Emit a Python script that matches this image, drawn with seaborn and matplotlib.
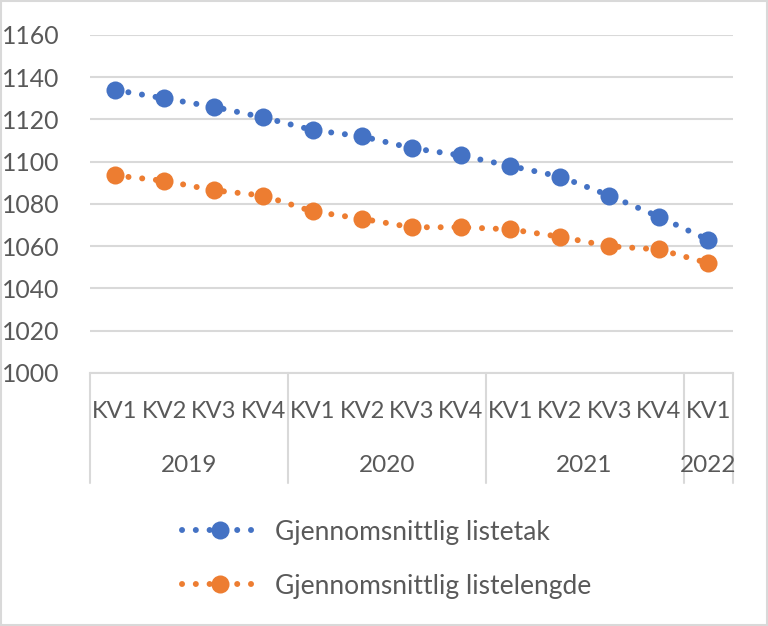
import matplotlib
matplotlib.use("Agg")
import matplotlib.pyplot as plt
import matplotlib.transforms as mtransforms
from matplotlib.lines import Line2D
from matplotlib.patches import Rectangle
import seaborn as sns
import pandas as pd
import numpy as np

quarters = ["KV1", "KV2", "KV3", "KV4", "KV1", "KV2", "KV3", "KV4",
            "KV1", "KV2", "KV3", "KV4", "KV1"]
years = ["2019", "2020", "2021", "2022"]
year_counts = [4, 4, 4, 1]
listetak = [1134, 1130, 1126, 1121, 1115, 1112, 1106.5, 1103,
            1098, 1093, 1084, 1074, 1063]
listelengde = [1093.5, 1091, 1086.5, 1084, 1076.5, 1073, 1069, 1069,
               1068, 1064.5, 1060, 1058.5, 1052]
series_names = ["Gjennomsnittlig listetak", "Gjennomsnittlig listelengde"]
colors = ["#4472C4", "#ED7D31"]

sns.set_theme(style="white")
plt.rcParams['font.family'] = ['Lato', 'DejaVu Sans']
text_color = "#595959"
grid_color = "#D9D9D9"

fig = plt.figure(figsize=(7.68, 6.26), dpi=100)
ax = fig.add_axes([90/768, 1-373/626, (733-90)/768, (373-35)/626])

idx = np.arange(len(quarters))
df = pd.DataFrame({"x": np.concatenate([idx, idx]),
                   "y": listetak + listelengde,
                   "serie": [series_names[0]]*len(idx) + [series_names[1]]*len(idx)})

dash = (0, (0.01, 2.3))
for name, col in zip(series_names, colors):
    sub = df[df["serie"] == name]
    sns.lineplot(data=sub, x="x", y="y", ax=ax, color=col, linewidth=4.3,
                 linestyle=dash, dash_capstyle="round", marker="o",
                 markersize=13, markeredgewidth=0, markerfacecolor=col,
                 zorder=3, legend=False)

ax.set_xlim(-0.5, len(quarters)-0.5)
ax.set_ylim(1000, 1160)
ax.set_yticks(np.arange(1000, 1161, 20))
ax.yaxis.grid(True, color=grid_color, linewidth=1.5)
ax.xaxis.grid(False)
ax.set_axisbelow(True)
for s in ["top", "right", "left"]:
    ax.spines[s].set_visible(False)
ax.spines["bottom"].set_color(grid_color)
ax.spines["bottom"].set_linewidth(1.5)
ax.set_xlabel("")
ax.set_ylabel("")
ax.set_xticks(idx)
ax.set_xticklabels(quarters)
ax.tick_params(axis="x", length=0, pad=20, labelsize=17, labelcolor=text_color)
ax.tick_params(axis="y", length=0, pad=22, labelsize=17.8, labelcolor=text_color)
for lab in ax.get_yticklabels():
    lab.set_horizontalalignment("right")

# group separators and year labels
trans = mtransforms.blended_transform_factory(ax.transData, fig.transFigure)
bounds = np.concatenate([[0], np.cumsum(year_counts)]) - 0.5
y_top = 1 - 373/626
y_bot = 1 - 483/626
for b in bounds:
    ax.add_line(Line2D([b, b], [y_top, y_bot], transform=trans, color=grid_color,
                       linewidth=1.5, clip_on=False))
for i, yr in enumerate(years):
    xc = (bounds[i] + bounds[i+1]) / 2
    ax.text(xc, 1 - 465/626, yr, transform=trans, ha="center", va="center",
            fontsize=17.5, color=text_color)

handles = [Line2D([0], [0], color=c, linewidth=4.3, linestyle=dash,
                  dash_capstyle="round", marker="o", markersize=13,
                  markeredgewidth=0) for c in colors]
leg = fig.legend(handles, series_names, loc="center", bbox_to_anchor=(0.503, 0.107),
                 frameon=False, fontsize=19, handlelength=2.9, labelspacing=1.1,
                 handletextpad=0.62)
for t in leg.get_texts():
    t.set_color(text_color)

fig.patches.append(Rectangle((0.001, 0.001), 0.998, 0.998, transform=fig.transFigure,
                             fill=False, edgecolor=grid_color, linewidth=1.5))

fig.savefig("out.png", dpi=100)
